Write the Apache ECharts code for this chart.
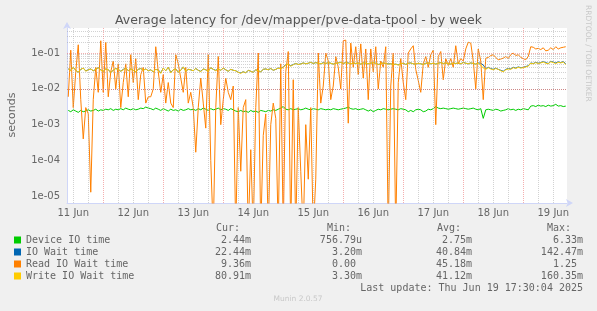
<!DOCTYPE html>
<html><head><meta charset="utf-8">
<script src="https://cdn.jsdelivr.net/npm/echarts@6/dist/echarts.min.js"></script>
<style>html,body{margin:0;padding:0;background:#f0f0f0;}#c{width:597px;height:311px;}</style>
</head><body><div id="c"></div>
<script>
// time in hours since 11 Jun 00:00; hourly samples starting at 10:00
const firstHour = 10;
const dayLabels = ['11 Jun','12 Jun','13 Jun','14 Jun','15 Jun','16 Jun','17 Jun','18 Jun','19 Jun'];
const dayLabelHours = [12,36,60,84,108,132,156,180,204];
const yTickValues = [1e-5,1e-4,1e-3,1e-2,1e-1];
const yTickLabels = ['1e-05','1e-04','1e-03','1e-02','1e-01'];

const deviceIO = [
2.5e-3,2.3e-3,2.6e-3,2.4e-3,2.2e-3,2.5e-3,2.3e-3,2.4e-3,2.6e-3,2.4e-3,
2.5e-3,2.7e-3,2.4e-3,2.6e-3,2.5e-3,2.7e-3,2.6e-3,2.8e-3,2.5e-3,2.7e-3,
2.6e-3,2.8e-3,2.6e-3,2.9e-3,2.7e-3,2.6e-3,2.8e-3,2.6e-3,2.7e-3,2.9e-3,
2.8e-3,3.1e-3,2.9e-3,2.8e-3,2.6e-3,2.9e-3,2.7e-3,2.5e-3,2.8e-3,2.6e-3,
2.4e-3,2.7e-3,2.5e-3,2.6e-3,2.4e-3,2.7e-3,2.5e-3,2.6e-3,2.8e-3,2.6e-3,
2.7e-3,2.5e-3,2.8e-3,2.6e-3,2.9e-3,2.7e-3,2.5e-3,2.8e-3,2.6e-3,2.7e-3,
2.9e-3,2.6e-3,2.8e-3,2.7e-3,2.5e-3,2.8e-3,2.6e-3,2.4e-3,2.3e-3,2.5e-3,
2.3e-3,2.4e-3,2.2e-3,2.5e-3,2.3e-3,2.4e-3,2.2e-3,2.5e-3,2.4e-3,2.3e-3,
2.5e-3,2.4e-3,2.6e-3,2.5e-3,2.7e-3,2.9e-3,3.2e-3,2.7e-3,2.6e-3,2.8e-3,
2.6e-3,2.7e-3,2.8e-3,2.6e-3,2.7e-3,2.9e-3,2.7e-3,2.6e-3,2.8e-3,2.7e-3,
2.6e-3,2.8e-3,2.7e-3,2.6e-3,2.7e-3,2.6e-3,2.8e-3,2.7e-3,2.6e-3,2.7e-3,
2.8e-3,2.9e-3,3.1e-3,2.8e-3,2.7e-3,2.8e-3,2.6e-3,2.7e-3,2.8e-3,2.6e-3,
2.4e-3,2.6e-3,2.3e-3,2.5e-3,2.7e-3,2.6e-3,2.8e-3,2.7e-3,2.6e-3,2.7e-3,
2.8e-3,2.7e-3,2.6e-3,2.8e-3,2.7e-3,2.6e-3,2.3e-3,2.5e-3,2.3e-3,2.6e-3,
2.7e-3,2.6e-3,2.3e-3,2.4e-3,2.7e-3,2.6e-3,2.8e-3,3.2e-3,2.9e-3,2.8e-3,
2.9e-3,2.8e-3,2.7e-3,2.8e-3,2.9e-3,2.8e-3,2.7e-3,2.8e-3,2.9e-3,2.8e-3,
2.7e-3,2.8e-3,2.9e-3,2.7e-3,2.6e-3,2.8e-3,1.5e-3,2.6e-3,2.7e-3,2.6e-3,
2.5e-3,2.7e-3,2.6e-3,2.4e-3,2.5e-3,2.6e-3,2.8e-3,2.6e-3,2.7e-3,2.5e-3,
2.7e-3,2.6e-3,2.8e-3,2.7e-3,2.6e-3,3.3e-3,3.4e-3,3.2e-3,3.5e-3,3.3e-3,
3.4e-3,3.2e-3,3.5e-3,3.3e-3,3.4e-3,3.7e-3,3.3e-3,3.4e-3,3.2e-3,3.3e-3
];
const ioWait = [
3.6e-2,3.3e-2,4.0e-2,3.3e-2,2.9e-2,3.5e-2,3.8e-2,3.2e-2,3.4e-2,3.6e-2,
3.2e-2,3.5e-2,3.9e-2,3.4e-2,3.1e-2,3.6e-2,3.4e-2,2.9e-2,3.3e-2,3.7e-2,
3.5e-2,3.1e-2,3.5e-2,3.8e-2,3.2e-2,3.6e-2,3.3e-2,3.0e-2,3.5e-2,3.7e-2,
3.3e-2,3.6e-2,3.2e-2,3.4e-2,3.0e-2,3.5e-2,3.4e-2,2.8e-2,3.8e-2,3.2e-2,
4.0e-2,2.9e-2,3.4e-2,3.6e-2,2.9e-2,3.3e-2,4.1e-2,3.1e-2,3.5e-2,3.4e-2,
3.2e-2,3.7e-2,3.3e-2,3.1e-2,3.6e-2,3.4e-2,3.1e-2,3.9e-2,3.5e-2,3.3e-2,
3.6e-2,3.3e-2,3.8e-2,3.4e-2,3.1e-2,3.5e-2,3.3e-2,3.2e-2,2.9e-2,2.8e-2,
3.0e-2,2.8e-2,3.3e-2,3.1e-2,2.9e-2,3.4e-2,3.2e-2,3.0e-2,3.5e-2,3.6e-2,
3.4e-2,3.7e-2,3.3e-2,3.5e-2,3.8e-2,3.7e-2,4.1e-2,4.7e-2,4.9e-2,4.4e-2,
4.8e-2,5.1e-2,4.8e-2,5.0e-2,5.3e-2,5.0e-2,5.2e-2,5.5e-2,5.1e-2,5.4e-2,
5.2e-2,5.0e-2,5.4e-2,5.1e-2,5.4e-2,5.2e-2,4.9e-2,5.2e-2,5.3e-2,5.5e-2,
5.1e-2,5.4e-2,5.3e-2,5.0e-2,5.3e-2,5.1e-2,5.3e-2,4.9e-2,5.3e-2,5.2e-2,
5.0e-2,5.2e-2,5.4e-2,5.2e-2,4.8e-2,5.0e-2,5.3e-2,5.1e-2,5.0e-2,5.0e-2,
4.8e-2,4.9e-2,4.7e-2,5.0e-2,5.2e-2,4.8e-2,5.2e-2,5.3e-2,5.0e-2,4.9e-2,
5.2e-2,5.0e-2,4.8e-2,5.2e-2,5.3e-2,5.0e-2,5.2e-2,4.9e-2,5.2e-2,5.4e-2,
5.1e-2,5.3e-2,5.0e-2,4.9e-2,5.3e-2,5.1e-2,5.3e-2,5.0e-2,5.5e-2,5.2e-2,
5.0e-2,5.3e-2,5.1e-2,4.9e-2,5.3e-2,5.2e-2,4.6e-2,3.7e-2,4.0e-2,3.7e-2,
3.5e-2,3.8e-2,3.5e-2,3.3e-2,3.1e-2,3.5e-2,3.7e-2,3.6e-2,4.0e-2,3.8e-2,
4.1e-2,3.9e-2,4.0e-2,4.2e-2,4.4e-2,5.3e-2,5.1e-2,5.5e-2,5.2e-2,5.4e-2,
5.8e-2,5.4e-2,5.1e-2,5.9e-2,5.6e-2,5.3e-2,5.7e-2,5.4e-2,5.8e-2,5.0e-2
];
const readIOWait = [
6e-3,1.2e-1,3e-3,3e-2,1.7e-1,5e-3,4e-4,3e-3,2e-3,1.3e-5,
5e-3,4e-2,8e-3,2.2e-1,8e-3,2e-1,6e-3,3e-2,6e-2,1e-2,
5e-2,3e-3,1.5e-2,5e-2,6e-3,9e-2,1.5e-2,7e-2,5e-3,2.5e-2,
4e-2,4e-3,6e-3,6e-3,1e-2,1.5e-1,3e-2,8e-3,2.5e-2,4e-3,
1.5e-2,4e-3,3e-3,9e-2,5e-2,2e-2,8e-3,4e-2,4e-3,8e-3,
3e-3,1.7e-4,3e-3,2e-2,4e-3,8e-4,9e-2,1e-4,1e-6,3e-3,
8e-2,1e-3,5e-3,2e-2,8e-3,5e-3,1.2e-2,1e-6,3e-3,5e-5,
3e-3,5e-3,1e-6,2e-4,1e-6,3e-3,1e-1,1e-6,5e-4,2e-3,
1e-6,1e-3,4e-3,1.5e-3,1e-6,5e-2,1e-6,3e-2,1.1e-1,1e-6,
1.8e-2,1e-6,3e-3,5e-5,1e-6,1e-3,3e-5,3e-3,1e-6,3e-5,
1e-1,4e-3,1.2e-2,1e-1,6e-2,5e-3,1.2e-2,8e-2,4e-2,1e-2,
2.2e-1,2.3e-1,1.1e-3,1.9e-1,4e-2,1.5e-1,2.5e-2,1.8e-1,2e-2,1.3e-1,
5e-3,1.3e-1,3e-2,1.5e-1,1e-2,6e-2,4e-2,1.5e-1,1e-6,1.2e-2,
1e-1,1e-6,1.5e-2,7e-2,1.5e-2,5e-3,1e-1,1.3e-1,1.6e-1,3.5e-2,
1.7e-2,8e-3,5e-2,8e-2,4e-2,9e-2,1.2e-1,1e-3,8e-2,1.1e-1,
1.8e-2,7e-2,4.5e-2,7e-2,4e-2,1.6e-1,5e-2,7e-2,6e-2,1.3e-1,
2e-1,1.9e-1,6e-2,1e-2,1.3e-1,6e-2,5e-3,7.2e-2,7.5e-2,8.5e-2,
9e-2,7.5e-2,6.5e-2,6.8e-2,7.2e-2,8e-2,7e-2,9e-2,1e-1,8.5e-2,
9e-2,7.5e-2,7e-2,6.5e-2,8e-2,1.5e-1,1.45e-1,1.3e-1,1.35e-1,1.25e-1,
1.4e-1,1.15e-1,1.2e-1,1.4e-1,1.25e-1,1.5e-1,1.3e-1,1.4e-1,1.45e-1,1.5e-1
];
const writeIOWait = [
3.6e-2,3.2e-2,4.0e-2,3.3e-2,2.9e-2,3.5e-2,3.8e-2,3.1e-2,3.4e-2,3.6e-2,
3.2e-2,3.5e-2,3.9e-2,3.3e-2,3.1e-2,3.6e-2,3.4e-2,2.9e-2,3.3e-2,3.7e-2,
3.5e-2,3.1e-2,3.4e-2,3.8e-2,3.2e-2,3.6e-2,3.3e-2,3.0e-2,3.5e-2,3.7e-2,
3.3e-2,3.6e-2,3.2e-2,3.4e-2,3.0e-2,3.5e-2,3.3e-2,2.7e-2,3.8e-2,3.2e-2,
4.0e-2,2.8e-2,3.4e-2,3.6e-2,2.9e-2,3.3e-2,4.1e-2,3.1e-2,3.5e-2,3.4e-2,
3.2e-2,3.7e-2,3.3e-2,3.0e-2,3.6e-2,3.4e-2,3.1e-2,3.9e-2,3.5e-2,3.2e-2,
3.6e-2,3.3e-2,3.8e-2,3.4e-2,3.1e-2,3.5e-2,3.3e-2,3.2e-2,2.9e-2,2.7e-2,
3.0e-2,2.8e-2,3.3e-2,3.1e-2,2.9e-2,3.4e-2,3.2e-2,3.0e-2,3.5e-2,3.6e-2,
3.4e-2,3.7e-2,3.3e-2,3.5e-2,3.8e-2,3.6e-2,4.0e-2,4.6e-2,4.9e-2,4.3e-2,
4.7e-2,5.1e-2,4.8e-2,4.9e-2,5.3e-2,5.0e-2,5.2e-2,5.5e-2,5.1e-2,5.4e-2,
5.2e-2,5.0e-2,5.3e-2,5.1e-2,5.4e-2,5.2e-2,4.9e-2,5.1e-2,5.3e-2,5.5e-2,
5.1e-2,5.4e-2,5.2e-2,5.0e-2,5.3e-2,5.1e-2,5.2e-2,4.9e-2,5.3e-2,5.2e-2,
5.0e-2,5.2e-2,5.4e-2,5.1e-2,4.8e-2,5.0e-2,5.3e-2,5.1e-2,4.9e-2,5.0e-2,
4.8e-2,4.9e-2,4.6e-2,5.0e-2,5.2e-2,4.8e-2,5.1e-2,5.3e-2,5.0e-2,4.9e-2,
5.2e-2,5.0e-2,4.8e-2,5.1e-2,5.3e-2,5.0e-2,5.2e-2,4.9e-2,5.1e-2,5.4e-2,
5.1e-2,5.3e-2,5.0e-2,4.9e-2,5.2e-2,5.1e-2,5.3e-2,5.0e-2,5.4e-2,5.2e-2,
5.0e-2,5.3e-2,5.1e-2,4.9e-2,5.2e-2,4.6e-2,3.8e-2,3.5e-2,3.9e-2,3.6e-2,
3.4e-2,3.7e-2,3.5e-2,3.2e-2,3.0e-2,3.4e-2,3.6e-2,3.5e-2,3.9e-2,3.7e-2,
4.0e-2,3.8e-2,3.9e-2,4.1e-2,4.3e-2,5.2e-2,5.0e-2,5.4e-2,5.1e-2,5.3e-2,
5.6e-2,5.2e-2,5.0e-2,5.7e-2,5.4e-2,5.1e-2,5.5e-2,5.3e-2,5.6e-2,4.8e-2
];

const seriesNames = ['Device IO time','IO Wait time','Read IO Wait time','Write IO Wait time'];
const seriesColors = ['#00cc00','#0066b3','#ff8000','#ffcc00'];
const curVals = ['2.44m','22.44m','9.36m','80.91m'];
const minVals = ['756.79u','3.20m','0.00 ','3.30m'];
const avgVals = ['2.75m','40.84m','45.18m','41.12m'];
const maxVals = ['6.33m','142.47m','1.25 ','160.35m'];

const X_MIN = 9.5, X_MAX = 209.5, Y_MIN = 6.5e-6, Y_MAX = 0.5;
const pair = arr => arr.map((v, i) => [firstHour + i, v]);

// grid line positions
const vMinor = [], vMajor = [];
for (let h = 12; h < X_MAX; h += 6) { (h % 24 === 0 ? vMajor : vMinor).push(h); }
const hMinor = [], hMajor = [];
for (let e = -6; e <= -1; e++) {
  for (let m = 1; m <= 9; m++) {
    const v = m * Math.pow(10, e);
    if (v > Y_MIN && v < Y_MAX * 0.99) (m === 1 ? hMajor : hMinor).push(v);
  }
}
const gridColor = 'rgba(165,165,165,0.5)';
const mgridColor = 'rgba(235,110,110,0.55)';

const chart = echarts.init(document.getElementById('c'), null, {renderer: 'canvas'});
const font = 'DejaVu Sans';
const mono = 'DejaVu Sans Mono';
const txtColor = '#666666';

const graphics = [];
graphics.push({type:'text', x: 12, y: 115, rotation: Math.PI/2,
  style:{text:'seconds', font:'11px "'+font+'"', fill: txtColor, textAlign:'center', textVerticalAlign:'middle'}});
graphics.push({type:'text', x: 588, y: 5, rotation: -Math.PI/2,
  style:{text:'RRDTOOL / TOBI OETIKER', font:'7.5px "'+font+'"', fill:'#c8c8c8', textAlign:'left', textVerticalAlign:'middle'}});
const headers = [['Cur:',216],['Min:',327],['Avg:',437],['Max:',547]];
headers.forEach(h => graphics.push({type:'text', x:h[1], y:228,
  style:{text:h[0], font:'10px "'+mono+'"', fill: txtColor, textAlign:'left', textVerticalAlign:'middle'}}));
const colRight = [251, 362, 472, 583];
seriesNames.forEach((n, i) => {
  const y = 240 + i * 12;
  graphics.push({type:'rect', shape:{x:14, y:y-3.5, width:7, height:7}, style:{fill: seriesColors[i]}});
  graphics.push({type:'text', x:26, y:y, style:{text:n, font:'10px "'+mono+'"', fill: txtColor, textAlign:'left', textVerticalAlign:'middle'}});
  [curVals[i], minVals[i], avgVals[i], maxVals[i]].forEach((t, j) => {
    graphics.push({type:'text', x:colRight[j], y:y, style:{text:t, font:'10px "'+mono+'"', fill: txtColor, textAlign:'right', textVerticalAlign:'middle'}});
  });
});
graphics.push({type:'text', x:583, y:288, style:{text:'Last update: Thu Jun 19 17:30:04 2025', font:'10px "'+mono+'"', fill: txtColor, textAlign:'right', textVerticalAlign:'middle'}});
graphics.push({type:'text', x:298, y:299, style:{text:'Munin 2.0.57', font:'7.5px "'+font+'"', fill:'#c8c8c8', textAlign:'center', textVerticalAlign:'middle'}});

const gridSeries = (vals, axisKey, color, name) => ({
  name, type:'line', data:[[firstHour, 1e-3]], symbol:'none', silent:true,
  lineStyle:{opacity:0}, z:1,
  markLine:{silent:true, symbol:['none','none'], animation:false, label:{show:false},
    lineStyle:{color, width:1, type:[1,1]},
    data: vals.map(v => ({[axisKey]: v}))}
});

const lineSeries = (name, arr, color, z) => ({
  name, type:'line', data: pair(arr), symbol:'none', showSymbol:false, z,
  lineStyle:{color, width:1}, itemStyle:{color}, clip:true, animation:false
});

chart.setOption({
  backgroundColor:'#f0f0f0',
  animation:false,
  title:{text:'Average latency for /dev/mapper/pve-data-tpool - by week', left:'center', top:9,
    textStyle:{fontFamily:font, fontSize:12.5, fontWeight:'normal', color:'#555555'}},
  grid:{left:67, right:30, top:28, bottom:108, show:true, backgroundColor:'#ffffff', borderWidth:0, containLabel:false},
  xAxis:{type:'value', min:X_MIN, max:X_MAX, splitLine:{show:false}, axisTick:{show:false},
    axisLine:{show:true, onZero:false, lineStyle:{color:'#cfd6f8', width:1}, symbol:['none','arrow'], symbolSize:[6,7], symbolOffset:[0,6]},
    axisLabel:{customValues: dayLabelHours, formatter: v => dayLabels[dayLabelHours.indexOf(v)],
      color:txtColor, fontFamily:font, fontSize:10, margin:5}},
  yAxis:{type:'log', logBase:10, min:Y_MIN, max:Y_MAX, splitLine:{show:false}, axisTick:{show:false}, minorTick:{show:false},
    axisLine:{show:true, onZero:false, lineStyle:{color:'#cfd6f8', width:1}, symbol:['none','arrow'], symbolSize:[6,7], symbolOffset:[0,6]},
    axisLabel:{customValues: yTickValues, formatter: v => {
        let best = 0; yTickValues.forEach((t, i) => { if (Math.abs(Math.log10(t) - Math.log10(v)) < Math.abs(Math.log10(yTickValues[best]) - Math.log10(v))) best = i; });
        return yTickLabels[best]; },
      color:txtColor, fontFamily:font, fontSize:10, margin:7}},
  graphic: graphics,
  series:[
    gridSeries(vMinor, 'xAxis', gridColor, 'g1'),
    gridSeries(hMinor, 'yAxis', gridColor, 'g2'),
    gridSeries(vMajor, 'xAxis', mgridColor, 'g3'),
    gridSeries(hMajor, 'yAxis', mgridColor, 'g4'),
    lineSeries(seriesNames[0], deviceIO, seriesColors[0], 2),
    lineSeries(seriesNames[1], ioWait, seriesColors[1], 3),
    lineSeries(seriesNames[2], readIOWait, seriesColors[2], 4),
    lineSeries(seriesNames[3], writeIOWait, seriesColors[3], 5)
  ]
});
</script></body></html>
